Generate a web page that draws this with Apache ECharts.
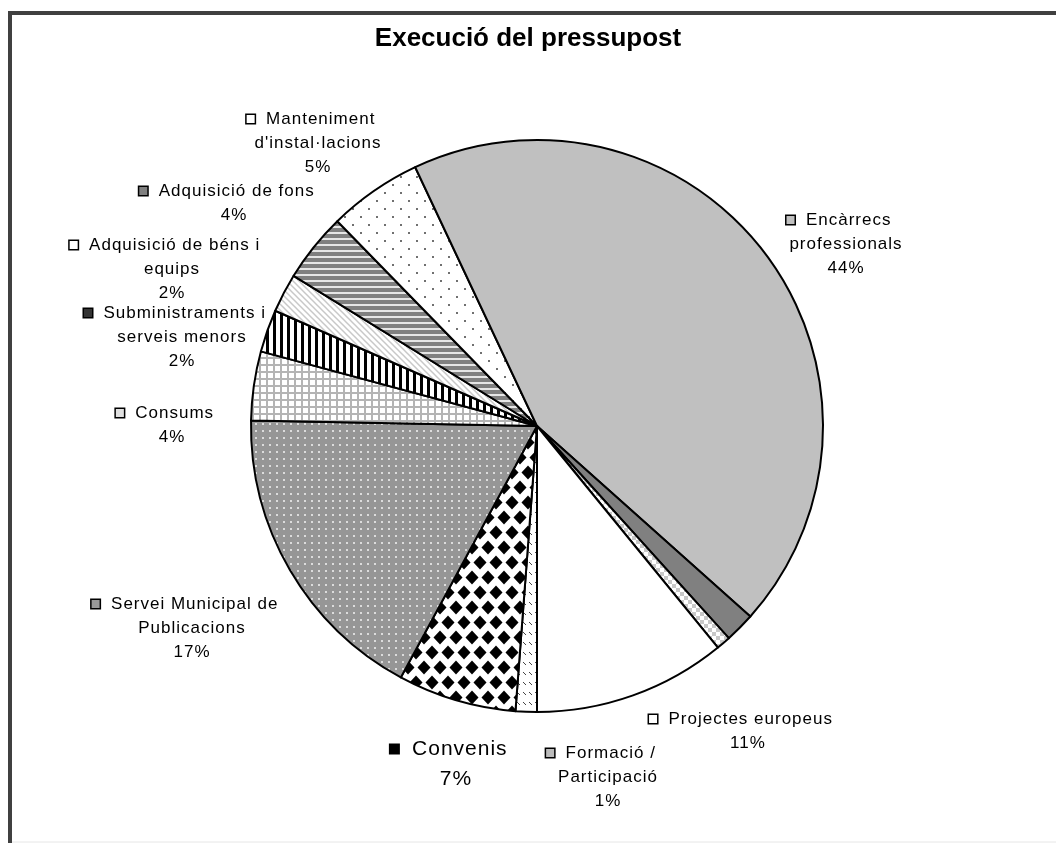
<!DOCTYPE html>
<html>
<head>
<meta charset="utf-8">
<script src="https://cdn.jsdelivr.net/npm/echarts@6/dist/echarts.min.js"></script>
<style>
  html, body { margin: 0; padding: 0; background: #fff; }
  #chart { width: 1056px; height: 843px; }
</style>
</head>
<body>
<div id="chart"></div>
<script>
// slices in drawing order, clockwise from 6 o'clock
var categories = [
  "Formació / Participació",
  "Convenis",
  "Servei Municipal de Publicacions",
  "Consums",
  "Subministraments i serveis menors",
  "Adquisició de béns i equips",
  "Adquisició de fons",
  "Manteniment d'instal·lacions",
  "Encàrrecs professionals",
  "Altres (a)",
  "Altres (b)",
  "Projectes europeus"
];
var values = [1.2, 6.7, 17.4, 3.9, 2.4, 2.2, 3.9, 5.3, 43.6, 1.7, 0.8, 10.9];
// label text as wrapped in the original (empty = no label)
var labelLines = [
  ["Formació /", "Participació"],
  ["Convenis"],
  ["Servei Municipal de", "Publicacions"],
  ["Consums"],
  ["Subministraments i", "serveis menors"],
  ["Adquisició de béns i", "equips"],
  ["Adquisició de fons"],
  ["Manteniment", "d'instal·lacions"],
  ["Encàrrecs", "professionals"],
  [],
  [],
  ["Projectes europeus"]
];

// the old Excel export spreads the label letters a bit, mimic with canvas letterSpacing
(function () {
  var proto = CanvasRenderingContext2D.prototype;
  if (!("letterSpacing" in proto)) return;
  var fill = proto.fillText, measure = proto.measureText;
  function spacing(ctx) { ctx.letterSpacing = /bold/.test(ctx.font) ? "0px" : "1px"; }
  proto.fillText = function () { spacing(this); return fill.apply(this, arguments); };
  proto.measureText = function () { spacing(this); return measure.apply(this, arguments); };
})();

// ---- fill patterns ----
function pattern(w, h, draw) {
  var c = document.createElement("canvas");
  c.width = w;
  c.height = h;
  var g = c.getContext("2d");
  draw(g, w, h);
  return { image: c, repeat: "repeat" };
}
function bg(g, w, h, col) { g.fillStyle = col; g.fillRect(0, 0, w, h); }

var fills = [
  // formació: small diagonal dashes
  pattern(6, 10, function (g, w, h) {
    bg(g, w, h, "#fff");
    g.strokeStyle = "#444"; g.lineWidth = 1;
    g.beginPath(); g.moveTo(1, 2); g.lineTo(4, 5); g.stroke();
  }),
  // convenis: black diamonds
  pattern(16, 30, function (g, w, h) {
    bg(g, w, h, "#fff");
    g.fillStyle = "#000";
    function dia(cx, cy) {
      g.beginPath(); g.moveTo(cx, cy - 7); g.lineTo(cx + 6.5, cy);
      g.lineTo(cx, cy + 7); g.lineTo(cx - 6.5, cy); g.closePath(); g.fill();
    }
    dia(8, 7.5);
    dia(0, 22.5); dia(16, 22.5);
    dia(8, 37.5); dia(0, -7.5); dia(16, -7.5);
  }),
  // servei: gray with white dots
  pattern(7, 7, function (g, w, h) {
    bg(g, w, h, "#969696");
    g.fillStyle = "#dcdcdc"; g.fillRect(3, 3, 2, 2);
  }),
  // consums: light grid
  pattern(7, 7, function (g, w, h) {
    bg(g, w, h, "#fff");
    g.fillStyle = "#b4b4b4"; g.fillRect(0, 0, 2, 7); g.fillRect(0, 0, 7, 2);
  }),
  // subministraments: vertical black stripes
  pattern(7, 4, function (g, w, h) {
    bg(g, w, h, "#fff");
    g.fillStyle = "#000"; g.fillRect(0, 0, 3, 4);
  }),
  // béns: light diagonal stripes
  pattern(6, 6, function (g, w, h) {
    bg(g, w, h, "#fff");
    g.strokeStyle = "#c8c8c8"; g.lineWidth = 1.5;
    g.beginPath(); g.moveTo(-1, -1); g.lineTo(7, 7); g.stroke();
    g.beginPath(); g.moveTo(5, -1); g.lineTo(7, 1); g.stroke();
    g.beginPath(); g.moveTo(-1, 5); g.lineTo(1, 7); g.stroke();
  }),
  // fons: horizontal gray stripes
  pattern(4, 6, function (g, w, h) {
    bg(g, w, h, "#808080");
    g.fillStyle = "#e6e6e6"; g.fillRect(0, 4, 4, 2);
  }),
  // manteniment: sparse dots
  pattern(16, 16, function (g, w, h) {
    bg(g, w, h, "#fff");
    g.fillStyle = "#707070";
    g.fillRect(0, 0, 2, 2); g.fillRect(8, 8, 2, 2);
  }),
  "#c0c0c0",
  "#808080",
  // small checker
  pattern(8, 8, function (g, w, h) {
    bg(g, w, h, "#fff");
    g.fillStyle = "#c8c8c8"; g.fillRect(0, 0, 4, 4); g.fillRect(4, 4, 4, 4);
  }),
  "#ffffff"
];
var keyColors = ["#bbb", "#000", "#999", "#e0e0e0", "#333", "#fff", "#808080", "#fff", "#c0c0c0", "#808080", "#ddd", "#fff"];

// centre of each label block
var labelSpots = [
  [608, 777], [456, 764], [192, 628], [172, 425], [182, 337], [172, 269],
  [234, 203], [318, 143], [846, 244], null, null, [748, 731]
];

var chart = echarts.init(document.getElementById("chart"));

var pieData = categories.map(function (name, i) {
  return {
    name: name,
    value: values[i],
    itemStyle: { color: fills[i] },
    label: { show: labelLines[i].length > 0 }
  };
});

var rich = {
  t: { fontSize: 17, lineHeight: 24, color: "#000" },
  big: { fontSize: 21, lineHeight: 30, color: "#000" },
  pad: { width: 14, height: 8 }
};
keyColors.forEach(function (c, i) {
  rich["k" + i] = { width: 8, height: 8, backgroundColor: c, borderColor: "#000", borderWidth: 1.5 };
});

chart.setOption({
  animation: false,
  backgroundColor: "#fff",
  textStyle: { fontFamily: "Liberation Sans, Arial, sans-serif" },
  title: {
    text: "Execució del pressupost",
    left: "center",
    top: 21,
    textStyle: { fontSize: 26, fontWeight: "bold", color: "#000", fontFamily: "Liberation Sans, Arial, sans-serif" }
  },
  graphic: [
    { type: "rect", shape: { x: 10, y: 13, width: 1100, height: 900 }, style: { fill: "none", stroke: "#404040", lineWidth: 4 }, z: -1 },
    { type: "line", shape: { x1: 12, y1: 842, x2: 1056, y2: 842 }, style: { stroke: "#e6e6e6", lineWidth: 1 }, z: -1 }
  ],
  series: [
    {
      type: "pie",
      center: [537, 426],
      radius: 286,
      startAngle: -90,
      clockwise: true,
      percentPrecision: 0,
      avoidLabelOverlap: false,
      data: pieData,
      itemStyle: { borderColor: "#000", borderWidth: 2 },
      emphasis: { disabled: true },
      labelLine: { show: false },
      label: {
        position: "outside",
        align: "center",
        rich: rich,
        formatter: function (p) {
          var lines = labelLines[p.dataIndex];
          var st = p.dataIndex === 1 ? "big" : "t";
          var out = "{k" + p.dataIndex + "|}{" + st + "|  " + lines[0] + "}{pad|}";
          for (var j = 1; j < lines.length; j++) out += "\n{" + st + "|" + lines[j] + "}";
          return out + "\n{" + st + "|" + p.percent + "%}";
        }
      },
      labelLayout: function (p) {
        var s = labelSpots[p.dataIndex];
        if (!s) return {};
        return { x: s[0], y: s[1], align: "center", verticalAlign: "middle" };
      }
    }
  ]
});
</script>
</body>
</html>
